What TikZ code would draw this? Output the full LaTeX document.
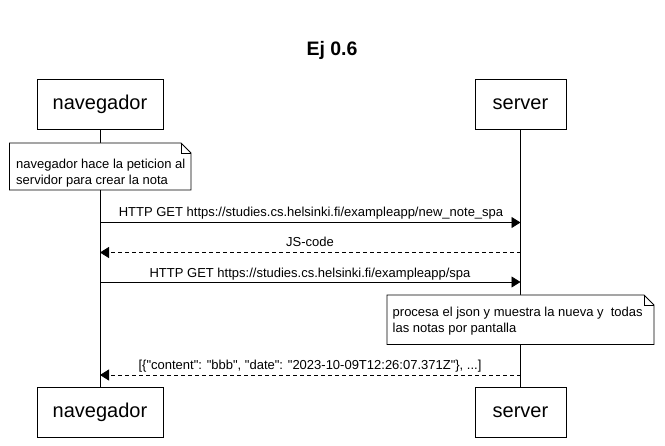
\documentclass[tikz,border=0pt]{standalone}
\usepackage{fontspec}
\setmainfont{Liberation Sans}
\newfontfamily\rawfont{Liberation Sans}
\usetikzlibrary{arrows.meta}
\begin{document}
\begin{tikzpicture}[x=1pt,y=-1pt,
  actor/.style={draw,line width=0.8pt,minimum height=50pt,inner sep=0pt,font=\fontsize{20}{24}\selectfont,fill=white},
  msg/.style={line width=0.8pt,-{Triangle[length=9pt,width=11pt]}},
  ret/.style={msg,dash pattern=on 4pt off 3pt},
  lbl/.style={font=\rawfont\fontsize{13}{15.5}\selectfont,inner sep=0pt,anchor=base},
  notebox/.style={line width=0.8pt,fill=white},
  notetxt/.style={font=\fontsize{13}{15.5}\selectfont,align=left,anchor=base west,inner sep=0pt}
]
\useasboundingbox (0,0) rectangle (665,446);
\fill[white] (0,0) rectangle (665,446);
\node[font=\bfseries\fontsize{19.5}{23}\selectfont,anchor=base] (title) at (332,56) {Ej 0.6};
% actors
\node[actor,minimum width=126pt] (navT) at (100,104.5) {navegador};
\node[actor,minimum width=91pt] (srvT) at (520.5,104.5) {server};
\node[actor,minimum width=126pt] (navB) at (100,412.5) {navegador};
\node[actor,minimum width=91pt] (srvB) at (520.5,412.5) {server};
% lifelines
\draw[line width=0.8pt] (navT.south) -- (navB.north);
\draw[line width=0.8pt] (srvT.south) -- (srvB.north);
% note 1
\draw[notebox] (9.5,143) -- (181,143) -- (191,153) -- (191,190) -- (9.5,190) -- cycle;
\draw[line width=0.8pt] (181,143) -- (181,153) -- (191,153);
\node[notetxt] (note1) at (16,184.3) {navegador hace la peticion al\\servidor para crear la nota};
% messages
\coordinate (n1) at (100,222.5); \coordinate (s1) at (520.5,222.5);
\draw[msg] (n1) -- (s1);
\node[lbl] (l1) at (311,217) {HTTP GET https://studies.cs.helsinki.fi/exampleapp/new\_note\_spa};
\coordinate (n2) at (100,252.5); \coordinate (s2) at (520.5,252.5);
\draw[ret] (s2) -- (n2);
\node[lbl] (l2) at (310,247) {JS-code};
\coordinate (n3) at (100,282); \coordinate (s3) at (520.5,282);
\draw[msg] (n3) -- (s3);
\node[lbl] (l3) at (310,277.5) {HTTP GET https://studies.cs.helsinki.fi/exampleapp/spa};
% note 2
\draw[notebox] (387,295) -- (644,295) -- (654,305) -- (654,344.5) -- (387,344.5) -- cycle;
\draw[line width=0.8pt] (644,295) -- (644,305) -- (654,305);
\node[notetxt] (note2) at (392.5,332.3) {procesa el json y muestra la nueva y\ \ todas\\las notas por pantalla};
\coordinate (n4) at (100,375); \coordinate (s4) at (520.5,375);
\draw[ret] (s4) -- (n4);
\node[lbl] (l4) at (310,370) {[\{"content": "bbb", "date": "2023-10-09T12:26:07.371Z"\}, ...]};
\end{tikzpicture}
\end{document}
